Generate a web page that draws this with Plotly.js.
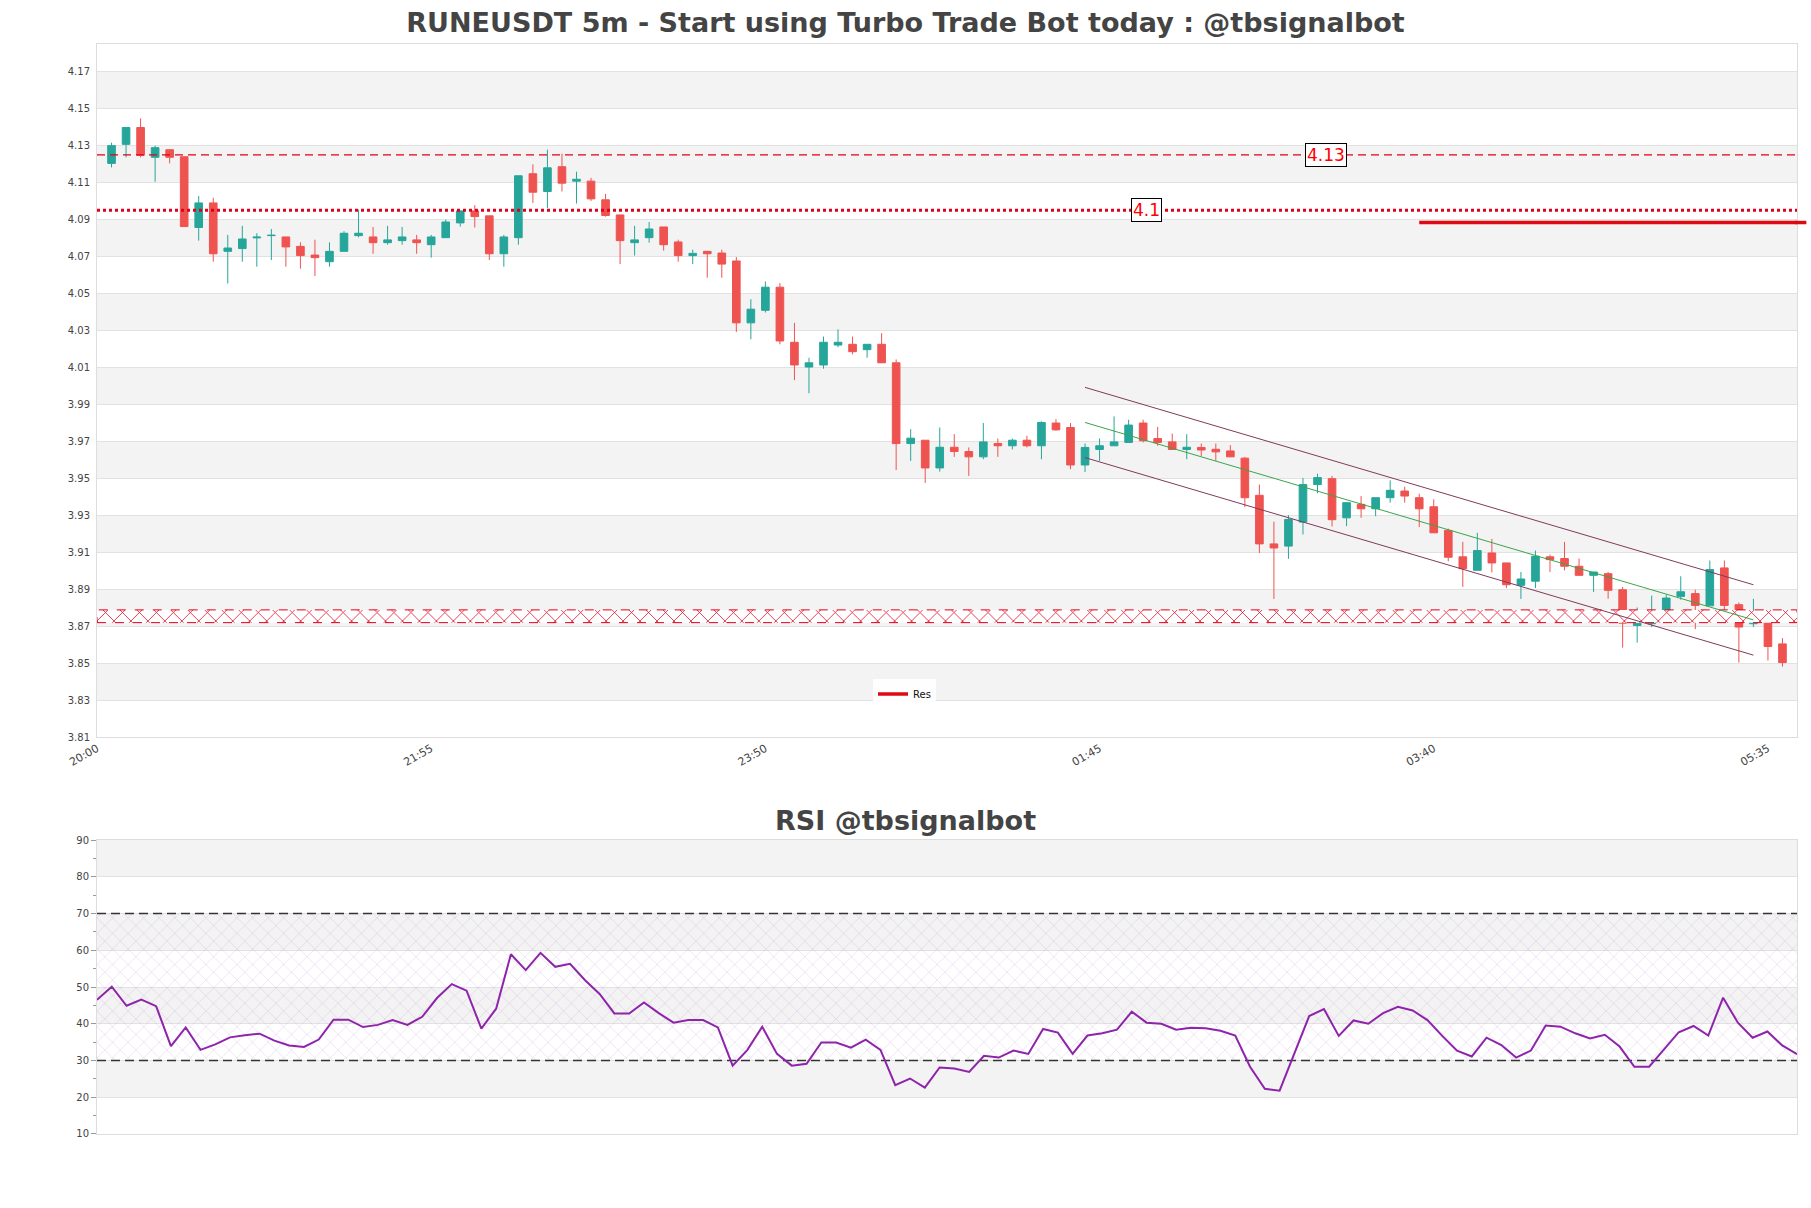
<!DOCTYPE html>
<html>
<head>
<meta charset="utf-8">
<script src="https://cdn.plot.ly/plotly-3.0.1.min.js"></script>
<style>
  html, body { margin: 0; padding: 0; background: #fff; }
  #chart { width: 1811px; height: 1208px; }
</style>
</head>
<body>
<div id="chart"></div>
<script>
// candle data, 5m bars from 20:05 to 05:40
var startTime = Date.UTC(2024, 0, 1, 20, 5);
var openP = [4.1204, 4.1307, 4.1398, 4.1237, 4.1278, 4.1240, 4.0857, 4.0990, 4.0728, 4.0743,
  4.0801, 4.0813, 4.0806, 4.0755, 4.0708, 4.0672, 4.0728, 4.0813, 4.0806, 4.0775,
  4.0786, 4.0790, 4.0764, 4.0802, 4.0882, 4.0947, 4.0920, 4.0715, 4.0802, 4.1148,
  4.1052, 4.1186, 4.1108, 4.1108, 4.1007, 4.0925, 4.0775, 4.0802, 4.0860, 4.0779,
  4.0705, 4.0728, 4.0719, 4.0676, 4.0341, 4.0409, 4.0534, 4.0236, 4.0102, 4.0113,
  4.0221, 4.0225, 4.0196, 4.0225, 4.0125, 3.9688, 3.9706, 3.9556, 3.9668, 3.9645,
  3.9616, 3.9688, 3.9676, 3.9706, 3.9676, 3.9799, 3.9775, 3.9572, 3.9656, 3.9676,
  3.9694, 3.9799, 3.9715, 3.9697, 3.9656, 3.9667, 3.9657, 3.9648, 3.9609, 3.9408,
  3.9145, 3.9133, 3.9263, 3.9466, 3.9498, 3.9286, 3.9359, 3.9335, 3.9395, 3.9431,
  3.9395, 3.9346, 3.9218, 3.9075, 3.9002, 3.9096, 3.9042, 3.8921, 3.8943, 3.9075,
  3.9066, 3.9024, 3.8975, 3.8984, 3.8897, 3.8704, 3.8713, 3.8780, 3.8861, 3.8876,
  3.8810, 3.9015, 3.8816, 3.8713, 3.8722, 3.8604];
var highP = [4.1316, 4.1398, 4.1447, 4.1300, 4.1278, 4.1240, 4.1028, 4.1018, 4.0817, 4.0866,
  4.0826, 4.0849, 4.0806, 4.0777, 4.0791, 4.0777, 4.0837, 4.0954, 4.0860, 4.0866,
  4.0860, 4.0817, 4.0817, 4.0900, 4.0947, 4.0978, 4.0920, 4.0817, 4.1137, 4.1199,
  4.1278, 4.1257, 4.1159, 4.1126, 4.1039, 4.0925, 4.0866, 4.0887, 4.0860, 4.0791,
  4.0737, 4.0728, 4.0737, 4.0697, 4.0469, 4.0565, 4.0556, 4.0341, 4.0152, 4.0267,
  4.0306, 4.0267, 4.0225, 4.0285, 4.0143, 3.9766, 3.9706, 3.9775, 3.9739, 3.9667,
  3.9799, 3.9715, 3.9715, 3.9730, 3.9808, 3.9820, 3.9799, 3.9688, 3.9715, 3.9835,
  3.9817, 3.9817, 3.9778, 3.9742, 3.9739, 3.9688, 3.9688, 3.9679, 3.9616, 3.9466,
  3.9265, 3.9301, 3.9502, 3.9525, 3.9513, 3.9368, 3.9404, 3.9395, 3.9489, 3.9455,
  3.9417, 3.9386, 3.9228, 3.9156, 3.9205, 3.9172, 3.9042, 3.8993, 3.9109, 3.9087,
  3.9156, 3.9066, 3.8993, 3.8993, 3.8912, 3.8801, 3.8865, 3.8870, 3.8970, 3.8897,
  3.9055, 3.9055, 3.8828, 3.8848, 3.8749, 3.8635];
var lowP = [4.1182, 4.1237, 4.1237, 4.1105, 4.1204, 4.0860, 4.0786, 4.0672, 4.0554, 4.0672,
  4.0645, 4.0681, 4.0645, 4.0634, 4.0594, 4.0645, 4.0728, 4.0804, 4.0715, 4.0764,
  4.0764, 4.0715, 4.0694, 4.0802, 4.0862, 4.0857, 4.0681, 4.0645, 4.0764, 4.0990,
  4.0962, 4.1052, 4.0987, 4.1001, 4.0916, 4.0659, 4.0705, 4.0775, 4.0732, 4.0672,
  4.0659, 4.0585, 4.0585, 4.0292, 4.0252, 4.0397, 4.0225, 4.0031, 3.9960, 4.0093,
  4.0209, 4.0171, 4.0152, 4.0125, 3.9545, 3.9594, 3.9475, 3.9536, 3.9616, 3.9513,
  3.9603, 3.9616, 3.9656, 3.9667, 3.9603, 3.9757, 3.9549, 3.9534, 3.9594, 3.9676,
  3.9694, 3.9694, 3.9676, 3.9656, 3.9603, 3.9621, 3.9594, 3.9616, 3.9344, 3.9096,
  3.8847, 3.9064, 3.9196, 3.9419, 3.9239, 3.9241, 3.9286, 3.9295, 3.9368, 3.9368,
  3.9236, 3.9205, 3.9051, 3.8912, 3.9002, 3.8991, 3.8906, 3.8847, 3.8906, 3.8993,
  3.9002, 3.8975, 3.8885, 3.8848, 3.8584, 3.8611, 3.8695, 3.8756, 3.8843, 3.8684,
  3.8810, 3.8776, 3.8503, 3.8695, 3.8514, 3.8481];
var closeP = [4.1300, 4.1398, 4.1248, 4.1289, 4.1237, 4.0862, 4.0990, 4.0715, 4.0746, 4.0795,
  4.0805, 4.0815, 4.0752, 4.0705, 4.0694, 4.0728, 4.0826, 4.0826, 4.0775, 4.0790,
  4.0806, 4.0775, 4.0806, 4.0887, 4.0947, 4.0916, 4.0715, 4.0806, 4.1137, 4.1048,
  4.1180, 4.1097, 4.1118, 4.1012, 4.0922, 4.0786, 4.0790, 4.0849, 4.0764, 4.0705,
  4.0717, 4.0715, 4.0659, 4.0341, 4.0415, 4.0534, 4.0243, 4.0113, 4.0125, 4.0236,
  4.0236, 4.0185, 4.0225, 4.0125, 3.9688, 3.9717, 3.9556, 3.9668, 3.9645, 3.9616,
  3.9697, 3.9676, 3.9706, 3.9676, 3.9802, 3.9762, 3.9572, 3.9667, 3.9676, 3.9697,
  3.9788, 3.9703, 3.9694, 3.9656, 3.9668, 3.9653, 3.9643, 3.9616, 3.9395, 3.9145,
  3.9123, 3.9277, 3.9466, 3.9504, 3.9276, 3.9368, 3.9335, 3.9395, 3.9435, 3.9404,
  3.9335, 3.9205, 3.9073, 3.9011, 3.9109, 3.9042, 3.8924, 3.8955, 3.9078, 3.9060,
  3.9024, 3.8975, 3.8993, 3.8894, 3.8716, 3.8716, 3.8785, 3.8852, 3.8886, 3.8812,
  3.9006, 3.8812, 3.8695, 3.8722, 3.8590, 3.8503];

var rsiValues = [46.5, 50.1, 44.9, 46.6, 44.8, 33.9, 39.0, 32.9, 34.4, 36.3,
  36.9, 37.3, 35.4, 34.1, 33.7, 35.7, 41.1, 41.1, 39.1, 39.7,
  41.0, 39.7, 41.9, 47.0, 50.8, 49.0, 38.7, 44.1, 58.9, 54.6,
  59.3, 55.5, 56.3, 51.9, 48.1, 42.8, 42.8, 45.8, 42.9, 40.3,
  41.0, 41.0, 39.0, 28.6, 32.9, 39.2, 31.8, 28.6, 29.1, 34.9,
  34.9, 33.5, 35.7, 32.9, 23.3, 25.1, 22.6, 28.1, 27.8, 26.9,
  31.3, 30.8, 32.7, 31.8, 38.6, 37.6, 31.8, 36.8, 37.4, 38.4,
  43.3, 40.3, 40.0, 38.4, 38.9, 38.8, 38.1, 36.8, 28.3, 22.3,
  21.8, 32.0, 42.1, 44.0, 36.7, 40.9, 40.0, 42.9, 44.6, 43.6,
  41.0, 36.7, 32.7, 31.1, 36.2, 34.2, 30.8, 32.7, 39.5, 39.2,
  37.4, 36.0, 37.0, 33.8, 28.3, 28.3, 33.1, 37.7, 39.4, 36.8,
  47.1, 40.3, 36.2, 37.9, 34.1, 31.7];

// horizontal levels and their labels
var levelValues = [4.125, 4.095];
var levelLabels = ['4.13', '4.1'];
var levelLabelTimes = ['2024-01-02 03:03', '2024-01-02 02:01'];

// support zone (hatched band)
var zoneLow = 3.8719, zoneHigh = 3.8788;

// resistance segment
var resTimes = ['2024-01-02 03:35', '2024-01-02 05:45'];
var resValues = [4.0884, 4.0884];

// descending channel
var channelTimes = ['2024-01-02 01:40', '2024-01-02 05:30'];
var channelUpper = [3.9992, 3.8924];
var channelMid = [3.9802, 3.8734];
var channelLower = [3.9612, 3.8543];

var priceTicks = [3.81, 3.83, 3.85, 3.87, 3.89, 3.91, 3.93, 3.95, 3.97, 3.99,
  4.01, 4.03, 4.05, 4.07, 4.09, 4.11, 4.13, 4.15, 4.17];
var rsiTicks = [10, 20, 30, 40, 50, 60, 70, 80, 90];
var rsiLevels = [30, 70];

var xRange = ['2024-01-01 20:00', '2024-01-02 05:45'];

function fmt(ms) {
  return new Date(ms).toISOString().slice(0, 19).replace('T', ' ');
}
var times = [];
for (var i = 0; i < openP.length; i++) times.push(fmt(startTime + i * 300000));

var red = '#e0001b';
var traces = [];

traces.push({
  type: 'candlestick', x: times, open: openP, high: highP, low: lowP, close: closeP,
  increasing: { line: { color: '#26a69a', width: 1 }, fillcolor: '#26a69a' },
  decreasing: { line: { color: '#ef5350', width: 1 }, fillcolor: '#ef5350' },
  whiskerwidth: 0, showlegend: false, hoverinfo: 'skip', xaxis: 'x', yaxis: 'y'
});

// support zone
traces.push({
  type: 'scatter', mode: 'lines',
  x: [xRange[0], xRange[1], xRange[1], xRange[0], xRange[0]],
  y: [zoneLow, zoneLow, zoneHigh, zoneHigh, zoneLow],
  fill: 'toself', fillcolor: 'rgba(0,0,0,0)',
  fillpattern: { shape: 'x', fgcolor: red, bgcolor: 'white', size: 12, solidity: 0.12 },
  line: { color: red, width: 1, dash: 'dash' },
  showlegend: false, hoverinfo: 'skip'
});

// levels
levelValues.forEach(function (v, k) {
  traces.push({
    type: 'scatter', mode: 'lines', x: xRange, y: [v, v],
    line: k === 0 ? { color: red, width: 1.4, dash: '8px,5px' } : { color: red, width: 3, dash: 'dot' },
    showlegend: false, hoverinfo: 'skip'
  });
});

// channel
traces.push({ type: 'scatter', mode: 'lines', x: channelTimes, y: channelUpper,
  line: { color: '#803a58', width: 1 }, showlegend: false, hoverinfo: 'skip' });
traces.push({ type: 'scatter', mode: 'lines', x: channelTimes, y: channelLower,
  line: { color: '#803a58', width: 1 }, showlegend: false, hoverinfo: 'skip' });
traces.push({ type: 'scatter', mode: 'lines', x: channelTimes, y: channelMid,
  line: { color: '#3aa54a', width: 1 }, showlegend: false, hoverinfo: 'skip' });

// resistance
traces.push({ type: 'scatter', mode: 'lines', x: resTimes, y: resValues, name: 'Res',
  line: { color: '#dd0a14', width: 3.5 }, showlegend: true, hoverinfo: 'skip' });

// RSI panel
var rsiRange = [times[0], times[times.length - 1]];
traces.push({
  type: 'scatter', mode: 'lines', xaxis: 'x2', yaxis: 'y2',
  x: [rsiRange[0], rsiRange[1], rsiRange[1], rsiRange[0], rsiRange[0]],
  y: [rsiLevels[0], rsiLevels[0], rsiLevels[1], rsiLevels[1], rsiLevels[0]],
  fill: 'toself', fillcolor: 'rgba(0,0,0,0)',
  fillpattern: { shape: 'x', fgcolor: 'rgba(185,140,205,0.4)', bgcolor: 'rgba(0,0,0,0)', size: 11, solidity: 0.1 },
  line: { width: 0 }, showlegend: false, hoverinfo: 'skip'
});
rsiLevels.forEach(function (v) {
  traces.push({ type: 'scatter', mode: 'lines', xaxis: 'x2', yaxis: 'y2', x: rsiRange, y: [v, v],
    line: { color: '#333', width: 1.3, dash: '9px,5px' }, showlegend: false, hoverinfo: 'skip' });
});
traces.push({ type: 'scatter', mode: 'lines', xaxis: 'x2', yaxis: 'y2', x: times, y: rsiValues,
  line: { color: '#8e24aa', width: 2 }, showlegend: false, hoverinfo: 'skip' });

// alternating bands
var shapes = [];
for (var j = 1; j < priceTicks.length - 1; j += 2) {
  shapes.push({ type: 'rect', xref: 'x domain', yref: 'y', x0: 0, x1: 1, y0: priceTicks[j], y1: priceTicks[j + 1],
    fillcolor: '#f3f3f3', line: { width: 0 }, layer: 'below' });
}
for (var j = 1; j < rsiTicks.length - 1; j += 2) {
  shapes.push({ type: 'rect', xref: 'x2 domain', yref: 'y2', x0: 0, x1: 1, y0: rsiTicks[j], y1: rsiTicks[j + 1],
    fillcolor: '#f3f3f3', line: { width: 0 }, layer: 'below' });
}
// res line runs a little past the frame
shapes.push({ type: 'line', xref: 'paper', yref: 'y', x0: 0.999, x1: 1.0055, y0: resValues[1], y1: resValues[1],
  line: { color: '#dd0a14', width: 3.5 } });

var annotations = levelValues.map(function (v, k) {
  return { x: levelLabelTimes[k], y: v, xref: 'x', yref: 'y', text: levelLabels[k], showarrow: false,
    font: { family: 'DejaVu Sans', size: 17, color: '#ff0000' },
    bgcolor: 'white', bordercolor: '#000', borderwidth: 1, borderpad: 1 };
});
annotations.push({ text: 'RSI @tbsignalbot', xref: 'paper', yref: 'paper', x: 0.4756, y: 0.288,
  xanchor: 'center', yanchor: 'middle', showarrow: false,
  font: { family: 'DejaVu Sans', size: 27, color: '#444', weight: 'bold' } });

var axisFont = { family: 'DejaVu Sans', size: 10, color: '#444' };

var layout = {
  width: 1811, height: 1208,
  margin: { l: 97, r: 14, t: 44, b: 74 },
  paper_bgcolor: 'white', plot_bgcolor: 'white',
  title: { text: 'RUNEUSDT 5m - Start using Turbo Trade Bot today : @tbsignalbot',
    x: 0.5, xref: 'container', y: 0.981, yref: 'container', yanchor: 'middle',
    font: { family: 'DejaVu Sans', size: 27, color: '#444', weight: 'bold' } },
  showlegend: true,
  legend: { x: 0.475, y: 0.4037, xanchor: 'center', yanchor: 'middle',
    bgcolor: 'rgba(255,255,255,0.85)', font: { family: 'DejaVu Sans', size: 10, color: '#111' } },
  xaxis: { type: 'date', range: xRange, domain: [0, 1], anchor: 'y',
    tick0: xRange[0], dtick: 115 * 60000, tickformat: '%H:%M', tickangle: -30,
    tickfont: { family: 'DejaVu Sans', size: 11, color: '#444' },
    showgrid: false, showline: true, mirror: true, linecolor: '#ddd',
    rangeslider: { visible: false }, fixedrange: true },
  yaxis: { domain: [0.3642, 1], anchor: 'x', range: [3.81, 4.185], tick0: 3.81, dtick: 0.02,
    tickformat: '.2f', tickfont: axisFont, gridcolor: '#e2e2e2', showline: true, mirror: true,
    linecolor: '#ddd', zeroline: false, fixedrange: true, ticklabelstandoff: 4 },
  xaxis2: { type: 'date', range: rsiRange, domain: [0, 1], anchor: 'y2', showticklabels: false,
    showgrid: false, showline: true, mirror: true, linecolor: '#ddd', ticks: '' },
  yaxis2: { domain: [0, 0.2697], anchor: 'x2', range: [10, 90], dtick: 10, tickfont: axisFont,
    gridcolor: '#e2e2e2', showline: true, mirror: true, linecolor: '#ddd', zeroline: false,
    ticks: 'outside', ticklen: 5, tickcolor: '#999',
    minor: { dtick: 5, ticks: 'outside', ticklen: 3, tickcolor: '#999', showgrid: false } },
  boxgap: 0.25,
  shapes: shapes,
  annotations: annotations
};

Plotly.newPlot('chart', traces, layout, { displayModeBar: false, staticPlot: true });
</script>
</body>
</html>
